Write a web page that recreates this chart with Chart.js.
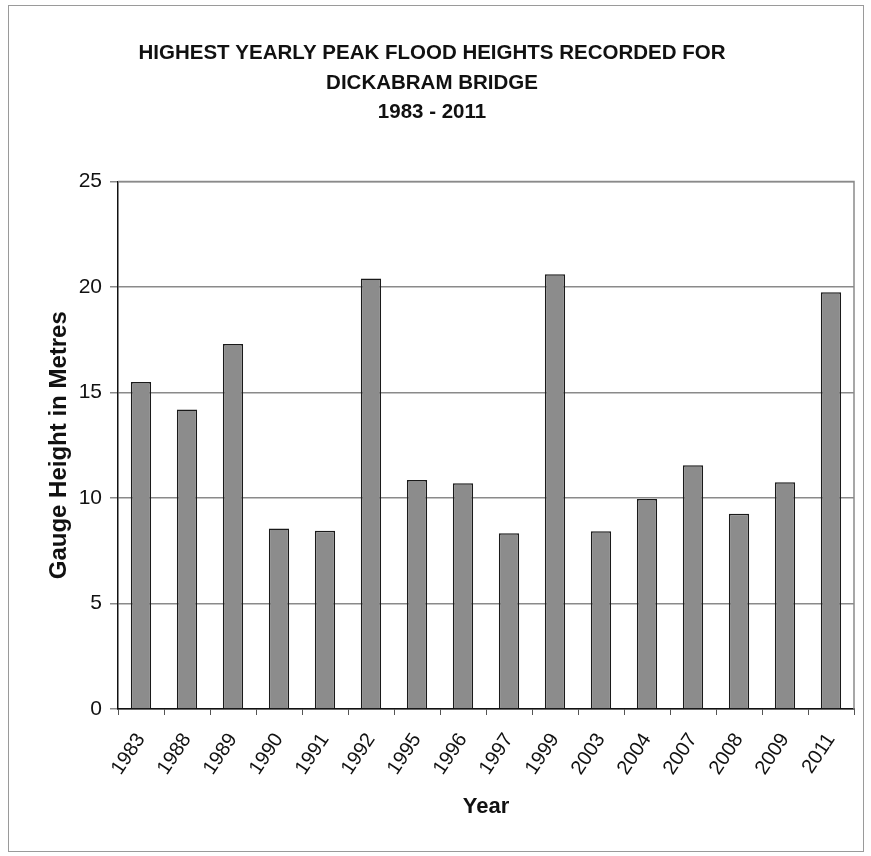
<!DOCTYPE html>
<html>
<head>
<meta charset="utf-8">
<script src="https://cdn.jsdelivr.net/npm/chart.js@4.4.1/dist/chart.umd.min.js"></script>
<style>
  html, body { margin: 0; padding: 0; background: #fff; }
  #frame { position: absolute; left: 8px; top: 5px; width: 854px; height: 845px; border: 1px solid #9a9a9a; }
  #wrap { position: absolute; left: 0; top: 0; width: 871px; height: 856px; }
</style>
</head>
<body>
<div id="frame"></div>
<div id="wrap"><canvas id="floodChart" width="871" height="856"></canvas></div>
<script>
const years = ["1983", "1988", "1989", "1990", "1991", "1992", "1995", "1996",
               "1997", "1999", "2003", "2004", "2007", "2008", "2009", "2011"];
const peakHeights = [15.5, 14.2, 17.3, 8.55, 8.45, 20.4, 10.85, 10.7,
                     8.33, 20.6, 8.43, 9.95, 11.55, 9.25, 10.75, 19.75];
const yTicks = [0, 5, 10, 15, 20, 25];
const titleLines = ["HIGHEST YEARLY PEAK FLOOD HEIGHTS RECORDED FOR", "DICKABRAM BRIDGE", "1983 - 2011"];

const ctx = document.getElementById("floodChart");

new Chart(ctx.getContext("2d"), {
  type: "bar",
  data: {
    labels: years,
    datasets: [{
      label: "Gauge Height",
      data: peakHeights,
      backgroundColor: "#8c8c8c",
      borderColor: "#1a1a1a",
      borderWidth: 1.5,
      barPercentage: 0.44,
      categoryPercentage: 1.0
    }]
  },
  options: {
    responsive: false,
    animation: false,
    layout: { padding: { left: 10, right: 17, top: 39, bottom: 0 } },
    plugins: {
      legend: { display: false },
      tooltip: { enabled: false },
      title: {
        display: true,
        text: titleLines,
        color: "#111",
        font: { family: "Liberation Sans", size: 20.5, weight: "bold", lineHeight: "29.5px" },
        padding: { top: 0, bottom: 54 }
      }
    },
    scales: {
      x: {
        offset: true,
        afterFit: axis => { axis.height = 147; },
        grid: { display: true, drawOnChartArea: false, drawTicks: true, tickLength: 6, offset: true, color: "#555" },
        border: { display: true, color: "#111", width: 1.5 },
        ticks: {
          maxRotation: 56, minRotation: 56, color: "#111", padding: 14,
          font: { family: "Liberation Sans", size: 20 }
        },
        title: {
          display: true, text: "Year", color: "#111",
          font: { family: "Liberation Sans", size: 22, weight: "bold" },
          padding: { top: 0, bottom: 36 }
        }
      },
      y: {
        min: 0, max: 25,
        afterFit: axis => { axis.width = 108; },
        afterBuildTicks: axis => { axis.ticks = yTicks.map(v => ({ value: v })); },
        grid: { color: "#8a8a8a", lineWidth: 1.5, tickLength: 8, drawTicks: true },
        border: { display: true, color: "#111", width: 1.5 },
        ticks: { color: "#111", padding: 8, font: { family: "Liberation Sans", size: 21 } },
        title: {
          display: true, text: "Gauge Height in Metres", color: "#111",
          font: { family: "Liberation Sans", size: 24, weight: "bold" },
          padding: { top: 35, bottom: 0 }
        }
      }
    }
  },
  plugins: [{
    id: "plotBorder",
    afterDraw(chart) {
      const { ctx, chartArea: a } = chart;
      ctx.save();
      ctx.strokeStyle = "#8a8a8a";
      ctx.lineWidth = 1.5;
      ctx.beginPath();
      ctx.moveTo(a.left, a.top);
      ctx.lineTo(a.right, a.top);
      ctx.lineTo(a.right, a.bottom);
      ctx.stroke();
      ctx.restore();
    }
  }]
});
</script>
</body>
</html>
